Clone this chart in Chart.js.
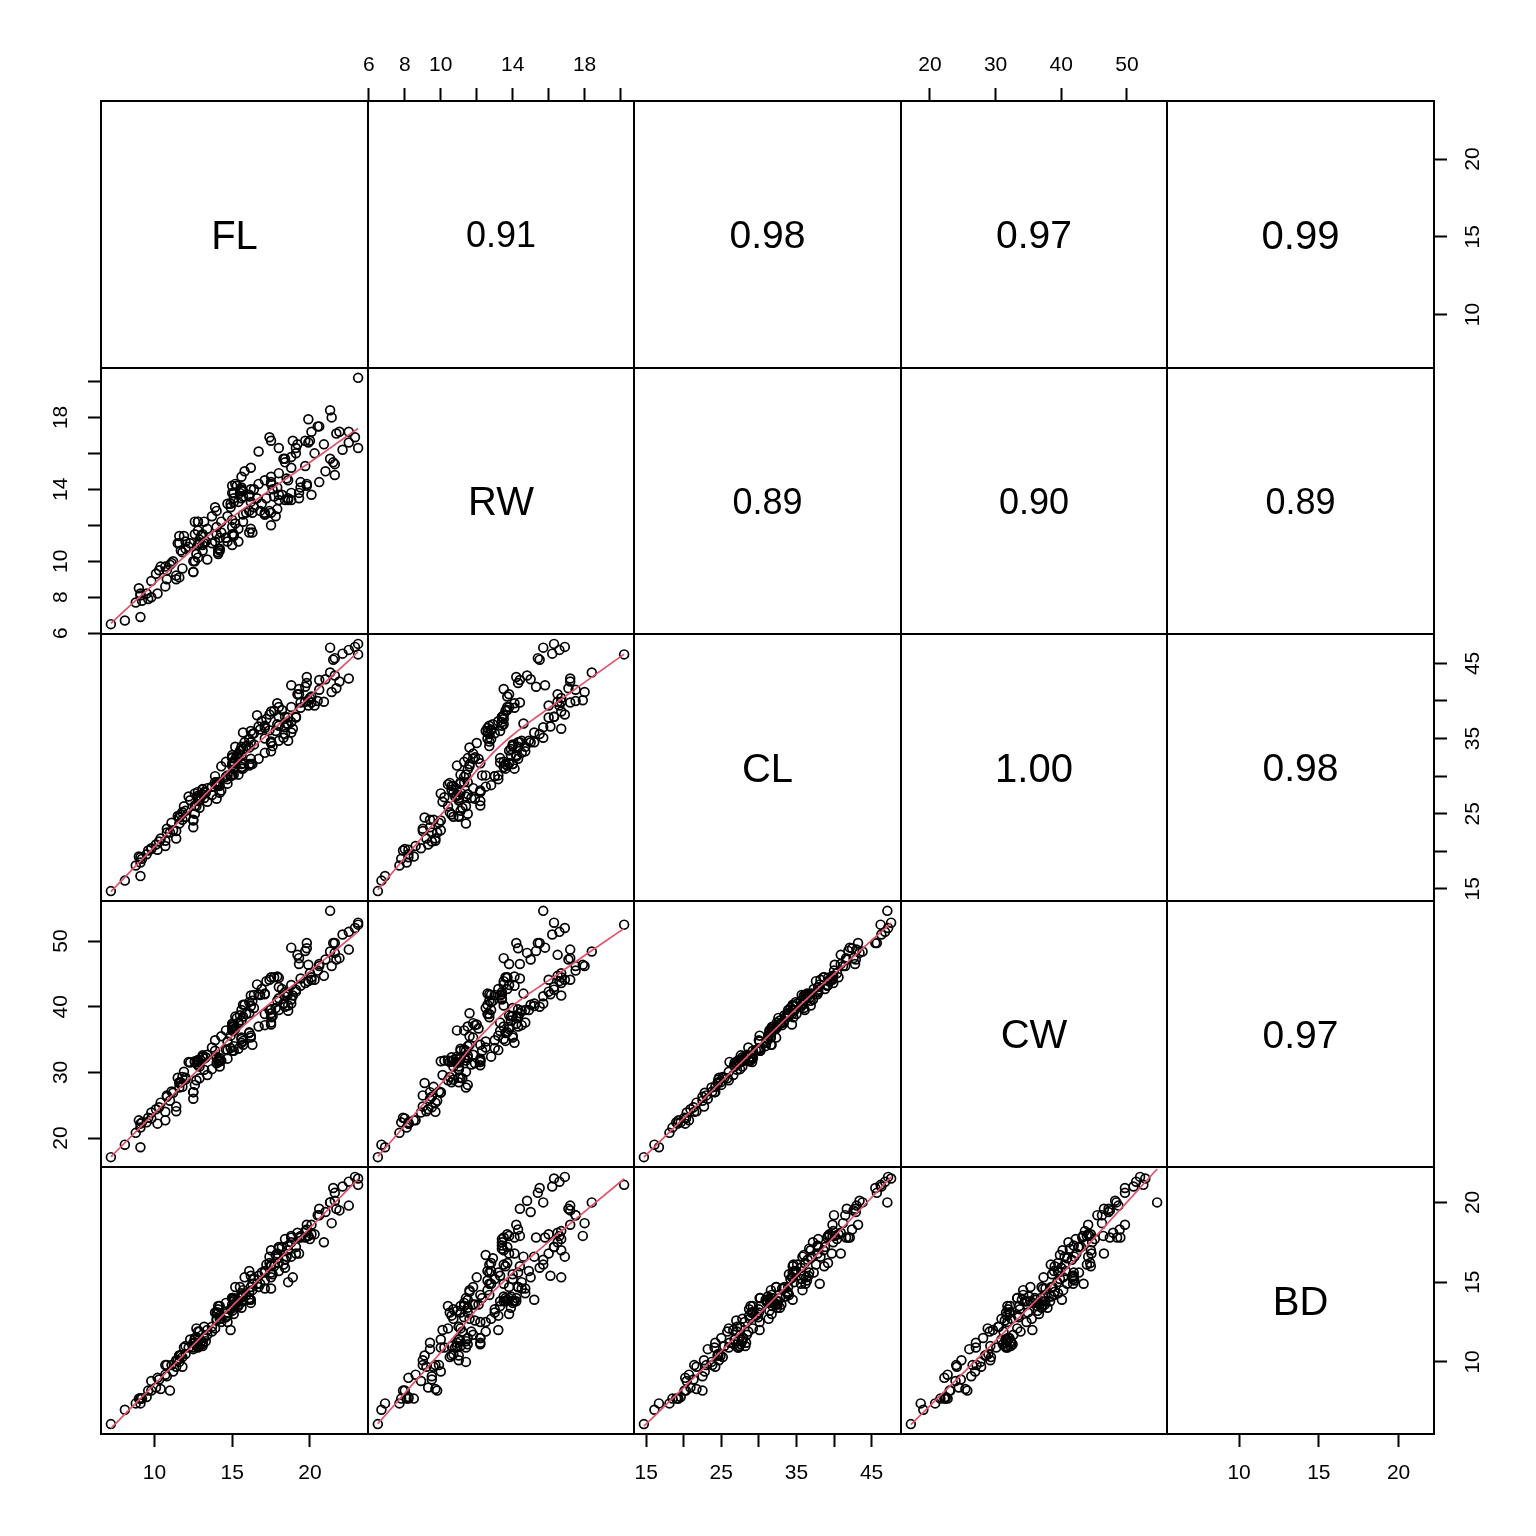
<!DOCTYPE html>
<html>
<head>
<meta charset="utf-8">
<title>crabs pairs</title>
<script src="https://cdn.jsdelivr.net/npm/chart.js@4.4.1/dist/chart.umd.min.js"></script>
<style>
  body { margin: 0; background: #fff; }
  #wrap { position: relative; width: 1536px; height: 1536px; }
  #wrap canvas { position: absolute; }
</style>
</head>
<body>
<div id="wrap"></div>
<script>
// crab measurements, 200 rows (blue males, blue females, orange males, orange females)
var FL = [
  8.1,8.8,9.2,9.6,9.8,10.8,11.1,11.6,11.8,11.8, 12.2,12.3,12.6,12.8,12.8,12.9,13.1,13.1,13.3,13.9,
  14.3,14.6,15.0,15.0,15.0,15.2,15.4,15.7,15.9,16.1, 16.1,16.2,16.3,16.4,16.6,16.8,16.9,17.1,17.1,17.2,
  17.7,17.9,18.0,18.8,19.3,19.3,19.7,19.8,19.8,21.3,
  7.2,9.0,9.1,9.1,9.5,9.8,10.1,10.3,10.4,10.8, 11.0,11.2,11.5,11.6,11.6,11.7,11.9,12.0,12.0,12.6,
  12.8,12.8,12.8,13.0,13.1,13.2,13.4,13.7,13.9,14.7, 14.9,15.0,15.0,15.1,15.1,15.1,15.2,15.3,15.4,15.5,
  15.6,15.6,15.7,15.8,16.2,16.4,16.7,17.4,17.5,19.2,
  9.1,10.2,10.7,11.4,12.5,12.5,12.7,13.2,13.4,13.7, 14.0,14.1,14.1,14.1,14.2,14.2,14.2,14.6,14.7,15.1,
  15.1,15.4,15.7,16.2,16.3,17.1,17.4,17.5,17.5,17.8, 17.9,18.0,18.2,18.4,18.6,18.6,18.8,18.8,19.4,19.4,
  20.1,20.6,21.0,21.5,21.6,21.6,22.1,22.5,22.9,23.1,
  10.7,11.4,12.5,12.6,12.9,14.0,14.0,14.3,14.7,14.9, 15.0,15.6,15.6,15.6,15.7,16.1,16.1,16.2,16.7,17.1,
  17.5,17.5,17.5,17.6,18.0,18.0,18.3,18.4,18.4,18.5, 18.6,18.8,18.9,19.1,19.1,19.7,19.9,19.9,20.0,20.1,
  20.3,20.5,20.6,20.9,21.3,21.4,21.7,21.9,22.5,23.1
];
var RW = [
  6.7,7.7,7.8,7.9,8.0,9.0,9.9,9.1,9.6,10.5, 10.8,11.0,10.0,10.2,10.9,11.0,10.6,10.9,11.1,11.1,
  11.6,11.3,10.9,11.5,11.9,12.1,11.8,12.6,12.7,11.6, 12.8,13.3,12.7,13.0,13.5,12.8,13.2,12.6,12.7,13.5,
  13.6,14.1,13.7,15.8,13.5,13.8,15.3,14.2,14.3,15.7,
  6.5,8.5,8.1,8.2,8.2,8.9,9.3,9.5,9.7,9.5, 9.8,10.0,11.0,11.0,11.4,10.6,11.4,10.7,11.1,12.2,
  11.7,12.2,12.2,11.4,11.5,12.2,11.8,12.5,13.0,12.5, 13.2,13.8,14.2,13.3,13.5,13.8,14.3,14.2,13.3,13.8,
  13.9,14.7,13.9,15.0,15.2,14.0,16.1,16.9,16.7,16.5,
  6.9,8.2,8.6,9.0,9.4,9.4,10.4,11.0,10.1,11.0, 11.5,10.4,10.5,10.7,10.6,10.7,11.3,11.3,11.1,11.4,
  11.5,11.1,12.2,11.8,11.6,12.6,12.8,12.0,12.7,12.5, 12.9,13.4,13.7,13.4,13.4,13.5,13.4,13.8,14.1,14.4,
  13.7,14.4,15.0,15.5,15.4,14.8,16.2,16.6,16.9,16.3,
  9.7,9.2,10.0,11.5,11.2,11.9,12.8,12.2,13.2,13.0, 12.3,13.5,14.0,14.1,13.6,13.6,13.7,14.0,14.3,14.5,
  14.3,14.4,14.7,14.0,14.9,16.3,15.7,15.5,15.7,14.6, 14.5,15.2,16.7,16.0,16.3,16.7,16.6,17.9,16.7,17.2,
  16.0,17.5,17.5,16.5,18.4,18.0,17.1,17.2,17.2,20.2
];
var CL = [
  16.1,18.1,19.0,20.1,20.3,23.0,23.8,24.5,24.2,25.2, 27.3,26.8,27.7,27.2,27.4,26.8,28.2,28.3,27.8,29.2,
  31.3,31.9,31.4,32.4,32.5,32.3,33.0,35.8,34.0,33.8, 34.9,36.0,35.6,35.7,38.1,36.2,37.3,36.4,36.7,37.6,
  38.7,39.7,39.2,42.1,41.6,40.9,41.9,43.2,42.4,47.1,
  14.7,19.3,18.5,19.2,19.6,20.4,20.9,21.3,21.7,22.5, 22.5,22.8,24.7,24.6,23.7,24.9,26.0,24.6,25.4,26.1,
  27.1,26.7,27.9,27.3,27.6,27.9,28.4,28.6,30.0,30.1, 30.1,31.7,32.8,31.8,31.9,31.7,33.9,32.6,32.4,33.4,
  32.8,33.9,33.6,34.5,34.5,34.2,36.6,38.2,38.6,40.9,
  16.7,20.2,20.7,22.7,23.2,24.2,26.0,27.1,26.6,27.5, 29.2,28.9,29.1,28.7,28.7,27.8,29.2,29.9,29.0,30.2,
  30.9,30.2,31.7,32.3,31.6,35.0,36.1,34.4,34.6,36.0, 36.9,36.7,38.8,37.9,37.8,36.9,37.2,39.2,39.1,39.8,
  40.6,42.8,42.9,45.5,45.7,43.4,46.3,46.8,47.2,47.6,
  21.4,21.7,24.1,25.0,25.8,27.0,28.8,28.1,29.6,30.0, 30.1,31.2,31.6,31.0,31.0,31.6,31.4,31.6,32.3,33.1,
  34.5,34.5,33.3,34.0,34.7,37.9,35.1,35.6,36.5,37.0, 34.7,35.8,36.3,37.8,37.9,39.9,39.4,40.1,40.4,39.8,
  39.4,40.0,41.5,39.9,43.8,41.2,41.7,42.6,43.0,46.2
];
var CW = [
  19.0,20.8,22.4,23.1,23.0,26.5,27.1,28.4,27.8,29.3, 31.6,31.5,31.7,31.8,31.5,30.9,32.3,32.4,32.3,33.3,
  35.5,36.4,36.4,37.0,37.2,36.7,37.5,40.3,38.9,39.0, 40.7,41.7,40.9,41.8,43.4,41.8,42.7,42.0,41.9,43.9,
  44.5,44.6,44.4,49.0,47.4,46.5,48.5,49.7,48.9,54.6,
  17.1,22.7,21.6,22.2,22.4,23.9,24.4,24.7,25.4,26.3, 25.7,26.9,29.2,28.5,27.7,28.5,30.1,28.9,29.2,31.6,
  31.2,31.1,31.9,31.8,32.6,32.1,32.7,33.8,34.9,34.7, 35.6,36.9,37.4,36.3,37.0,36.6,38.5,38.3,37.6,38.7,
  37.9,39.5,38.5,40.3,40.1,39.8,41.9,44.1,44.5,47.9,
  18.6,22.2,22.7,24.8,26.0,27.0,28.8,30.4,29.6,30.5, 32.2,31.8,31.6,31.9,31.7,30.9,32.2,33.5,32.1,33.3,
  34.0,33.6,34.2,35.3,34.2,38.9,39.5,37.3,38.4,39.8, 40.9,41.3,42.7,42.2,41.9,40.2,41.1,43.3,43.2,44.3,
  44.5,46.5,47.2,49.7,49.7,48.2,51.0,51.4,52.0,52.8,
  24.0,24.1,27.0,28.1,29.1,31.4,32.4,31.8,33.4,33.7, 33.3,35.1,35.3,34.5,34.8,36.0,36.1,35.6,37.0,37.2,
  39.6,39.0,37.6,38.6,39.5,43.0,40.5,40.0,41.6,42.0, 39.4,40.5,41.7,42.3,42.6,43.6,43.9,46.4,45.1,44.1,
  44.1,45.5,46.2,44.7,48.4,46.2,47.2,47.4,48.7,52.5
];
var BD = [
  7.0,7.4,7.7,8.2,8.2,9.8,9.8,10.4,9.7,10.3, 10.9,11.4,11.4,10.9,11.0,11.4,11.0,11.2,11.3,12.1,
  12.7,13.7,13.2,13.4,13.6,13.6,13.6,14.5,14.2,14.4, 15.7,15.4,14.9,15.2,14.9,14.9,15.6,15.1,15.6,16.1,
  16.0,16.8,16.2,17.8,17.8,16.8,17.8,18.6,18.3,20.0,
  6.1,7.7,7.7,7.7,7.8,8.8,8.4,8.9,8.3,9.1, 8.2,9.4,10.1,10.4,10.0,10.4,10.9,10.5,11.0,11.2,
  11.9,11.1,11.5,11.3,11.1,11.5,11.7,11.9,13.1,12.5, 12.0,14.0,14.0,13.5,13.8,13.0,14.7,13.8,13.8,14.7,
  13.4,14.3,14.1,15.3,13.9,15.2,15.4,16.6,17.0,18.1,
  7.4,9.0,9.2,10.1,10.8,11.2,12.1,12.2,12.0,12.2, 13.1,13.5,13.1,13.3,12.9,12.7,13.5,12.8,13.1,14.0,
  13.9,13.5,14.2,14.7,14.5,15.7,16.2,15.3,16.1,16.7, 16.5,17.1,17.2,17.7,17.3,17.0,17.5,17.9,17.8,17.9,
  18.0,19.6,19.4,20.9,20.6,20.1,21.0,21.3,21.6,21.5,
  9.8,9.7,10.9,11.5,11.9,12.6,12.7,12.5,12.9,13.3, 14.0,14.1,13.8,13.8,13.8,14.0,13.9,13.7,14.7,14.6,
  15.6,16.0,14.6,15.5,15.7,17.2,16.1,15.9,16.4,16.6, 15.0,16.6,15.3,16.8,17.2,18.2,17.9,17.9,17.7,18.6,
  18.0,19.2,19.2,17.5,20.0,18.7,19.6,19.5,19.8,21.1
];

var varNames = ['FL', 'RW', 'CL', 'CW', 'BD'];

// tick positions and printed labels ('' = tick without label)
var ticksFL = [10, 15, 20];
var labelsFL = ['10', '15', '20'];
var ticksRW = [6, 8, 10, 12, 14, 16, 18, 20];
var labelsRW = ['6', '8', '10', '', '14', '', '18', ''];
var ticksCL = [15, 20, 25, 30, 35, 40, 45];
var labelsCL = ['15', '', '25', '', '35', '', '45'];
var ticksCW = [20, 30, 40, 50];
var labelsCW = ['20', '30', '40', '50'];
var ticksBD = [10, 15, 20];
var labelsBD = ['10', '15', '20'];

// correlations printed in the upper panels, row by row
var corRow1 = ['0.91', '0.98', '0.97', '0.99'];
var corRow2 = ['0.89', '0.90', '0.89'];
var corRow3 = ['1.00', '0.98'];
var corRow4 = ['0.97'];

var vars = [FL, RW, CL, CW, BD];
var tickSets = [ticksFL, ticksRW, ticksCL, ticksCW, ticksBD];
var labelSets = [labelsFL, labelsRW, labelsCL, labelsCW, labelsBD];
var corRows = [corRow1, corRow2, corRow3, corRow4];

var M = 80;                                   // room around each panel for axes
var edges = [101, 368, 634, 901, 1167, 1434]; // panel borders in page pixels
var FONT = '"Liberation Sans", Arial, Helvetica, sans-serif';

// R-style axis limits: data range widened by 4% on each side
var lims = vars.map(function(v) {
  var lo = Math.min.apply(null, v), hi = Math.max.apply(null, v), d = (hi - lo) * 0.04;
  return [lo - d, hi + d];
});

// locally weighted smoother (same scheme as R's lowess, f = 2/3, 3 robustness passes)
function lowess(xv, yv) {
  var f = 2 / 3, iter = 3;
  var idx = xv.map(function(_, k) { return k; }).sort(function(a, b) { return xv[a] - xv[b]; });
  var x = idx.map(function(k) { return xv[k]; });
  var y = idx.map(function(k) { return yv[k]; });
  var n = x.length, ns = Math.max(2, Math.min(n, Math.floor(f * n + 1e-7)));
  var range = x[n - 1] - x[0];
  var rw = x.map(function() { return 1; });
  var fit = new Array(n);
  for (var it = 0; it <= iter; it++) {
    var nleft = 0, nright = ns - 1;
    for (var i = 0; i < n; i++) {
      while (nright < n - 1 && x[i] - x[nleft] > x[nright + 1] - x[i]) { nleft++; nright++; }
      var h = Math.max(x[i] - x[nleft], x[nright] - x[i]);
      var h9 = 0.999 * h, h1 = 0.001 * h;
      var w = [], a = 0, j;
      for (j = 0; j < n; j++) {
        var r = Math.abs(x[j] - x[i]), ww = 0;
        if (r <= h9) ww = (r <= h1 ? 1 : Math.pow(1 - Math.pow(r / h, 3), 3)) * rw[j];
        w.push(ww); a += ww;
      }
      if (a <= 0) { fit[i] = y[i]; continue; }
      var xbar = 0, ybar = 0;
      for (j = 0; j < n; j++) { w[j] /= a; xbar += w[j] * x[j]; ybar += w[j] * y[j]; }
      var c = 0, sxy = 0;
      for (j = 0; j < n; j++) { c += w[j] * (x[j] - xbar) * (x[j] - xbar); sxy += w[j] * (x[j] - xbar) * y[j]; }
      fit[i] = (Math.sqrt(c) > 0.001 * range) ? ybar + sxy / c * (x[i] - xbar) : ybar;
    }
    if (it === iter) break;
    var res = y.map(function(v, k) { return v - fit[k]; });
    var ar = res.map(Math.abs).sort(function(p, q) { return p - q; });
    var m = n % 2 ? ar[(n - 1) / 2] : (ar[n / 2 - 1] + ar[n / 2]) / 2;
    var cmad = 6 * m;
    if (cmad < 1e-7) break;
    rw = res.map(function(v) {
      var u = Math.abs(v) / cmad;
      return u < 0.001 ? 1 : (u > 0.999 ? 0 : Math.pow(1 - u * u, 2));
    });
  }
  return x.map(function(v, k) { return { x: v, y: fit[k] }; });
}

function axisOpts(k, pos, shown, horiz) {
  var pad = pos === 'top' ? 10 : (pos === 'bottom' ? 14 : 15);
  var o = {
    type: 'linear',
    position: pos,
    display: shown,
    min: lims[k][0],
    max: lims[k][1],
    grid: { display: true, drawOnChartArea: false, drawTicks: true, tickLength: 13, tickWidth: 2, tickColor: '#000' },
    border: { display: false },
    ticks: {
      autoSkip: false,
      color: '#000',
      padding: pad,
      font: { family: FONT, size: 21 },
      callback: function(v) {
        var p = tickSets[k].indexOf(v);
        return p < 0 ? '' : labelSets[k][p];
      }
    },
    afterBuildTicks: function(s) {
      s.ticks = tickSets[k].map(function(v) { return { value: v }; });
    }
  };
  if (horiz) {
    o.ticks.maxRotation = 0;
    o.ticks.minRotation = 0;
  } else {
    o.ticks.minRotation = 90;
    o.ticks.maxRotation = 90;
    o.ticks.crossAlign = 'center';
  }
  if (shown) {
    o.afterFit = function(s) {
      if (horiz) s.height = M; else s.width = M;
      s.paddingLeft = s.paddingRight = s.paddingTop = s.paddingBottom = 0;
    };
  }
  return o;
}

var boxPlugin = {
  id: 'panelBox',
  afterDraw: function(chart) {
    var a = chart.chartArea, ctx = chart.ctx;
    ctx.save();
    ctx.lineWidth = 2;
    ctx.strokeStyle = '#000';
    ctx.strokeRect(a.left, a.top, a.right - a.left, a.bottom - a.top);
    ctx.restore();
  }
};

function textPlugin(txt, size) {
  return {
    id: 'panelText',
    afterDraw: function(chart) {
      var a = chart.chartArea, ctx = chart.ctx;
      ctx.save();
      ctx.fillStyle = '#000';
      ctx.font = size + 'px ' + FONT;
      ctx.textAlign = 'center';
      ctx.textBaseline = 'middle';
      ctx.fillText(txt, (a.left + a.right) / 2, (a.top + a.bottom) / 2 + 3);
      ctx.restore();
    }
  };
}

var wrap = document.getElementById('wrap');

function makePanel(i, j) {
  var x0 = edges[j], x1 = edges[j + 1], y0 = edges[i], y1 = edges[i + 1];
  var cv = document.createElement('canvas');
  cv.width = x1 - x0 + 2 * M;
  cv.height = y1 - y0 + 2 * M;
  cv.style.left = (x0 - M) + 'px';
  cv.style.top = (y0 - M) + 'px';
  cv.style.width = cv.width + 'px';
  cv.style.height = cv.height + 'px';
  wrap.appendChild(cv);

  var hasT = (i === 0 && j % 2 === 1);
  var hasB = (i === 4 && j % 2 === 0);
  var hasL = (j === 0 && i % 2 === 1);
  var hasR = (j === 4 && i % 2 === 0);

  var datasets = [];
  var plugins = [boxPlugin];
  if (i > j) {
    var pts = vars[j].map(function(v, k) { return { x: v, y: vars[i][k] }; });
    datasets.push({
      data: lowess(vars[j], vars[i]),
      showLine: true,
      borderColor: '#DF536B',
      borderWidth: 1.7,
      pointRadius: 0,
      order: 0
    });
    datasets.push({
      data: pts,
      pointStyle: 'circle',
      pointRadius: 4.4,
      borderWidth: 1.7,
      borderColor: '#000',
      backgroundColor: 'rgba(0,0,0,0)',
      order: 1
    });
  } else if (i === j) {
    plugins.push(textPlugin(varNames[i], 40));
  } else {
    var txt = corRows[i][j - i - 1];
    plugins.push(textPlugin(txt, Math.round(40 * parseFloat(txt))));
  }

  new Chart(cv, {
    type: 'scatter',
    data: { datasets: datasets },
    plugins: plugins,
    options: {
      responsive: false,
      animation: false,
      events: [],
      layout: { padding: { left: hasL ? 0 : M, right: hasR ? 0 : M, top: hasT ? 0 : M, bottom: hasB ? 0 : M } },
      plugins: { legend: { display: false }, tooltip: { enabled: false } },
      scales: {
        x: axisOpts(j, hasT ? 'top' : 'bottom', hasT || hasB, true),
        y: axisOpts(i, hasR ? 'right' : 'left', hasL || hasR, false)
      }
    }
  });
}

for (var i = 0; i < 5; i++) {
  for (var j = 0; j < 5; j++) makePanel(i, j);
}
</script>
</body>
</html>
